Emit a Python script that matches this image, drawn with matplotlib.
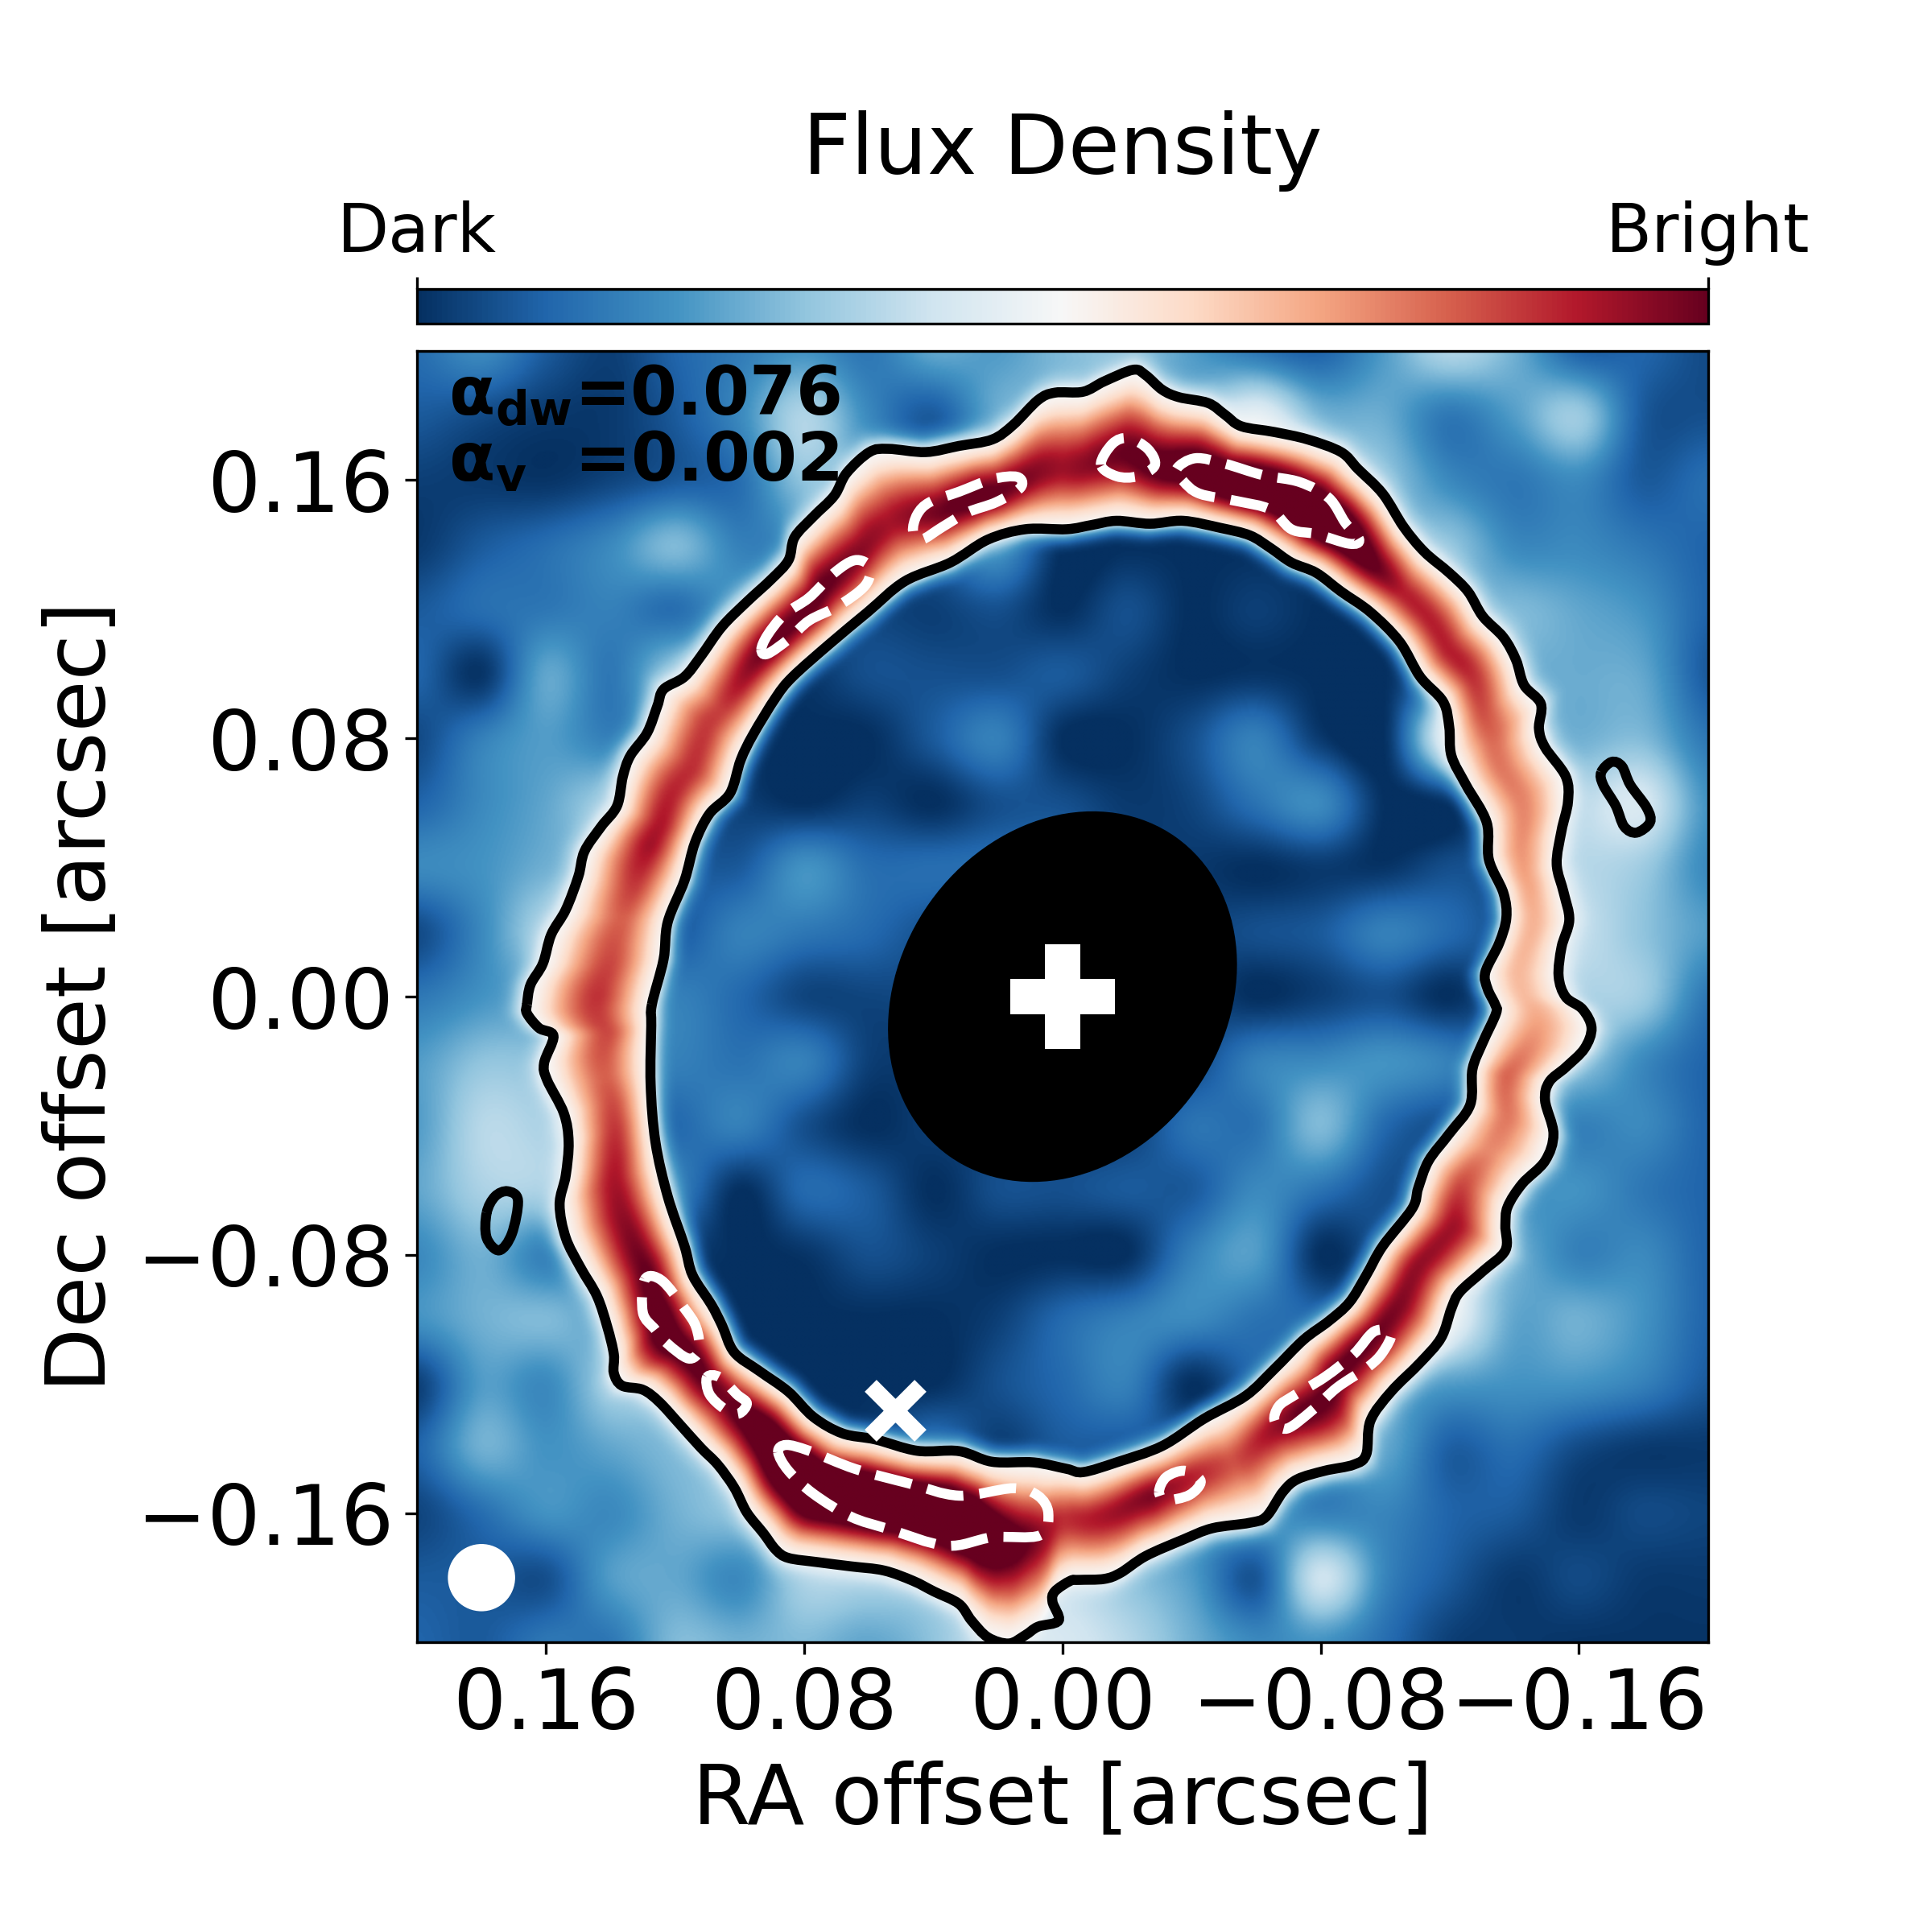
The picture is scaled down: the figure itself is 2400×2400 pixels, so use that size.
"""Flux density map of the ring with contours, beam and planet markers."""

from __future__ import annotations

import matplotlib

matplotlib.use("Agg")
import matplotlib.pyplot as plt
import numpy as np
from matplotlib.patches import Ellipse, PathPatch
from matplotlib.path import Path

# contours in milli-arcsec (RA grows to the left)
OUTER_RA = [165.9, 164.8, 161.0, 158.4, 153.9, 150.0, 148.1, 142.9, 138.0, 136.2, 133.9, 128.7, 125.5, 123.6, 117.1, 112.0, 105.5, 97.8, 90.1, 84.9, 83.0, 77.2, 70.7, 66.9, 59.8, 54.0, 42.4, 32.1, 21.8, 15.3, 7.6, 2.4,
            -6.4, -12.9, -21.9, -25.8, -30.9, -36.1, -45.1, -50.3, -55.4, -65.7, -76.0, -86.3, -91.5, -99.2, -105.7, -112.1, -119.8, -125.6, -130.2, -136.6, -140.5, -143.0, -148.2, -147.6, -149.5, -155.9, -156.6, -154.6, -153.1, -155.3, -157.0, -154.6, -153.7, -155.9,
            -161.1, -163.9, -161.7, -155.9, -150.8, -149.5, -152.1, -149.5, -142.4, -137.9, -137.2, -137.2, -130.2, -123.1, -120.5, -117.3, -110.8, -101.8, -95.4, -94.1, -90.2, -81.2, -72.8, -68.3, -63.1, -58.0, -46.4, -37.4, -25.8, -18.0, -12.9, -5.2,
            -2.4, 2.4, 3.1, 1.2, 7.6, 11.5, 16.6, 23.1, 28.2, 32.1, 39.8, 46.3, 55.3, 65.6, 75.9, 84.9, 88.8, 92.7, 97.8, 101.7, 106.8, 112.0, 118.4, 124.9, 130.0, 136.5, 139.0, 139.0, 141.0, 144.2, 149.4, 153.9, 155.8, 153.9, 153.0, 154.5, 159.7, 160.6, 157.7, 162.2, 165.9]
OUTER_DEC = [-2.4, 3.7, 10.2, 19.2, 26.9, 37.2, 45.0, 52.7, 59.1, 68.2, 74.6, 81.7, 90.1, 95.2, 99.1, 105.5, 114.6, 122.3, 129.4, 135.2, 142.3, 148.7, 155.2, 162.2, 168.7, 169.7, 168.7, 170.6, 172.6, 177.1, 184.8, 187.1,
             187.4, 190.6, 194.2, 192.5, 188.0, 185.7, 183.9, 180.3, 176.7, 174.9, 172.6, 168.7, 163.5, 155.8, 145.5, 137.8, 131.3, 125.5, 117.8, 111.3, 104.3, 96.5, 90.7, 83.0, 77.2, 68.2, 60.4, 51.4, 41.1, 32.1, 23.7, 15.3, 6.3, -0.1,
             -3.9, -9.7, -16.1, -21.9, -26.4, -32.2, -42.5, -50.9, -58.0, -65.1, -70.9, -78.6, -85.1, -91.5, -96.6, -105.7, -113.4, -122.4, -131.4, -141.8, -145.0, -146.9, -149.5, -153.4, -161.1, -163.0, -164.7, -168.2, -173.3, -178.5, -180.4, -180.7,
             -181.0, -184.3, -187.5, -193.3, -195.2, -197.8, -200.4, -198.5, -193.3, -188.1, -184.3, -181.0, -177.8, -176.5, -175.2, -173.9, -171.4, -166.2, -159.8, -152.1, -145.0, -139.8, -132.7, -125.6, -121.8, -120.5, -116.6, -110.8, -102.4, -92.8, -83.8, -74.7, -64.4, -55.4, -45.1, -36.1, -25.8, -20.6, -12.2, -9.7, -5.2]
INNER_RA = [127.2, 123.6, 122.3, 117.1, 113.9, 109.4, 103.0, 99.7, 95.9, 88.8, 83.6, 72.0, 60.4, 48.8, 34.7, 23.1, 11.5, -1.3,
            -9.0, -16.7, -27.1, -37.4, -49.0, -58.0, -64.4, -70.9, -78.6, -86.3, -95.4, -104.4, -110.8, -117.9, -119.8, -120.5, -125.0, -131.4, -132.1, -136.6, -137.5, -135.3, -131.0, -131.7, -134.0,
            -134.3, -130.2, -127.0, -126.3, -119.8, -113.4, -110.2, -108.3, -99.2, -94.1, -88.9, -82.5, -74.7, -65.7, -56.7, -43.8, -30.9, -16.7, -6.4, -1.3,
            8.9, 21.8, 32.1, 45.0, 57.9, 68.2, 77.2, 84.9, 93.9, 101.7, 105.5, 108.8, 114.6, 117.1, 122.3, 126.1, 127.6, 127.4]
INNER_DEC = [-2.4, 11.5, 23.1, 36.0, 47.6, 56.6, 63.0, 73.3, 81.1, 92.7, 99.1, 109.4, 119.1, 128.7, 134.5, 141.6, 144.8, 144.8,
             146.1, 147.4, 146.5, 147.4, 145.2, 142.9, 139.0, 134.5, 131.3, 125.5, 119.1, 110.0, 99.1, 91.4, 83.6, 74.6, 65.6, 54.0, 42.4, 32.1, 24.4, 16.6, 7.6, 2.4, -2.4,
             -5.2, -14.2, -22.5, -33.5, -42.5, -50.9, -59.3, -65.7, -77.3, -86.3, -94.7, -100.5, -106.3, -115.3, -123.7, -130.8, -139.2, -144.3, -147.3, -146.3,
             -144.3, -144.1, -140.8, -140.7, -137.2, -135.3, -130.2, -122.4, -116.0, -110.2, -101.8, -95.4, -86.3, -77.3, -61.9, -45.1, -27.1, -9.0]

# isolated islands of the lower contour
ISLAND_R_RA = [-166.9, -170.1, -173.3, -175.9, -181.0, -182.0, -177.8, -174.0, -171.4, -167.5]
ISLAND_R_DEC = [69.5, 72.7, 71.4, 65.6, 58.5, 54.0, 50.8, 52.7, 59.1, 65.6]
ISLAND_L_RA = [178.4, 175.8, 171.9, 168.7, 170.6, 174.5, 178.4]
ISLAND_L_DEC = [-67.0, -61.9, -60.3, -63.1, -73.5, -78.6, -74.7]

# high level (white dashed) contours
PEAK_RA = [
    [46.3, 45.0, 41.1, 32.1, 21.8, 14.0, 13.0, 20.5, 29.5, 37.2, 43.7],
    [93.3, 91.4, 86.2, 78.5, 70.7, 64.3, 59.8, 61.1, 69.5, 78.5, 84.9, 91.4],
    [-11.9, -15.5, -20.4, -26.4, -28.6, -23.2, -16.8],
    [-35.4, -41.2, -50.3, -61.9, -73.5, -82.5, -87.6, -91.9, -88.9, -78.6, -70.9, -64.4, -54.1, -42.5, -37.4],
    [-29.9, -32.2, -38.0, -42.8, -39.3, -32.2],
    [-65.7, -67.0, -71.5, -81.2, -90.2, -96.6, -101.8, -99.2, -94.7, -85.1, -77.3, -69.6],
    [129.4, 124.2, 117.1, 113.5, 112.6, 115.9, 122.3, 126.2, 130.0],
    [110.1, 109.4, 104.9, 100.4, 97.8, 101.0, 106.2],
    [88.1, 85.6, 78.5, 64.3, 47.6, 32.1, 15.3, 7.6, 4.4, 7.0, 21.8, 36.0, 54.0, 65.6, 77.2, 84.9],
]
PEAK_DEC = [
    [144.2, 149.4, 153.2, 156.4, 160.3, 161.0, 157.7, 153.2, 150.0, 145.5, 141.6],
    [107.5, 112.0, 118.4, 123.6, 131.3, 135.2, 133.2, 127.4, 121.0, 116.5, 110.7, 106.2],
    [164.8, 171.3, 173.0, 169.7, 164.6, 161.2, 161.2],
    [163.5, 166.8, 165.1, 161.6, 159.4, 154.5, 146.8, 141.6, 140.3, 143.3, 144.8, 150.9, 153.5, 155.8, 159.7],
    [-153.4, -148.8, -146.9, -150.1, -154.4, -155.9],
    [-131.4, -126.9, -123.7, -117.9, -110.8, -103.7, -104.4, -110.2, -114.7, -121.1, -128.2, -133.8],
    [-87.6, -87.9, -96.6, -102.4, -109.5, -112.1, -107.6, -103.1, -97.9],
    [-117.9, -123.1, -127.6, -129.2, -126.0, -123.1, -117.9],
    [-141.1, -138.9, -140.7, -146.3, -150.8, -154.6, -152.3, -154.6, -160.0, -166.9, -167.5, -170.1, -164.9, -161.1, -154.0, -146.9],
]

# brightness along the ring ridge, every 10 deg clockwise from the RA+ side
RIDGE_ANGLE = list(range(0, 360, 10))
RIDGE_FLUX = [0.87, 0.80, 0.93, 0.88, 0.85, 1.02, 1.02, 0.92, 1.05, 0.93, 1.05, 1.20, 1.20, 0.90, 0.90, 0.78, 0.74, 0.68,
              0.66, 0.80, 0.74, 0.93, 0.96, 1.02, 1.02, 0.82, 0.98, 0.87, 1.25, 1.28, 1.25, 0.99, 1.08, 0.98, 0.90, 0.80]
RIDGE_FRACTION = 0.45
CONTOUR_FLUX = 0.5

# flux on a 20 mas grid, in percent of full scale, rows Dec +200..-200, columns RA +200..-200
BACKGROUND = [
    [12, 18, 8, 3, 10, 15, 20, 14, 24, 22, 28, 30, 22, 14, 10, 22, 35, 26, 10, 10, 5],
    [8, 5, 2, 2, 8, 18, 35, 18, 8, 25, 45, 45, 45, 45, 27, 25, 14, 22, 32, 8, 6],
    [3, 2, 1, 4, 8, 12, 30, 45, 45, 45, 45, 45, 45, 45, 45, 30, 18, 14, 18, 8, 12],
    [2, 8, 12, 18, 28, 16, 25, 45, 45, 20, 0, 0, 0, 0, 45, 45, 30, 18, 18, 14, 10],
    [8, 12, 14, 16, 12, 24, 45, 45, 3, 6, 0, 6, 0, 3, 0, 45, 45, 28, 24, 20, 10],
    [10, 1, 24, 14, 30, 45, 1, 6, 6, 6, 8, 3, 0, 1, 0, 0, 45, 45, 25, 24, 8],
    [5, 16, 22, 16, 45, 45, 0, 0, 8, 16, 0, 0, 6, 16, 2, 0, 45, 45, 26, 28, 14],
    [10, 18, 24, 32, 45, 3, 0, 3, 0, 6, 6, 2, 4, 13, 18, 0, 1, 45, 36, 42, 20],
    [18, 20, 26, 45, 45, 8, 20, 12, 12, 12, 10, 4, 2, 0, 2, 1, 6, 45, 36, 32, 18],
    [5, 18, 34, 45, 8, 16, 14, 11, 6, 4, 4, 4, 4, 6, 8, 16, 11, 45, 38, 30, 22],
    [14, 20, 40, 45, 16, 11, 4, 4, 5, 5, 5, 5, 5, 0, 3, 6, 0, 45, 34, 32, 14],
    [22, 30, 42, 45, 16, 13, 16, 3, 3, 3, 3, 5, 5, 16, 18, 20, 16, 45, 30, 18, 10],
    [22, 36, 34, 45, 11, 16, 6, 0, 3, 3, 3, 3, 13, 13, 28, 11, 6, 45, 16, 18, 10],
    [24, 34, 34, 45, 16, 0, 11, 8, 0, 6, 6, 8, 8, 18, 13, 6, 45, 45, 20, 14, 10],
    [18, 26, 16, 34, 45, 0, 1, 6, 3, 0, 0, 0, 16, 22, 0, 45, 45, 26, 16, 18, 10],
    [20, 26, 28, 26, 45, 0, 0, 0, 0, 3, 11, 16, 18, 13, 11, 45, 45, 24, 26, 20, 10],
    [3, 22, 18, 32, 45, 45, 0, 0, 0, 6, 11, 16, 0, 11, 45, 45, 22, 20, 20, 16, 8],
    [10, 26, 20, 24, 28, 45, 45, 45, 13, 3, 8, 8, 30, 45, 45, 24, 9, 12, 5, 2, 2],
    [4, 12, 20, 18, 26, 30, 45, 45, 45, 45, 45, 45, 45, 45, 16, 17, 10, 8, 2, 5, 4],
    [8, 8, 6, 22, 24, 18, 34, 34, 40, 45, 45, 30, 22, 7, 40, 17, 8, 2, 5, 2, 2],
    [10, 8, 14, 14, 28, 26, 28, 24, 30, 42, 42, 36, 26, 18, 20, 12, 3, 2, 1, 1, 1],
]

# cross-ring profile from the contour (0) to the ridge (1), and the fall off beyond the contour
PROFILE_POS = [0.0, 0.15, 0.3, 0.5, 0.7, 0.85, 1.0]
PROFILE_LEVEL = [0.0, 0.07, 0.25, 0.55, 0.80, 0.95, 1.0]
FADE_OUT_MAS = [0.0, 2.0, 4.0, 6.0, 9.0]
FADE_IN_MAS = [0.0, 1.5, 3.0, 5.0, 7.0]
FADE_LEVEL = [0.0, 0.35, 0.7, 0.9, 1.0]

TICKS = [0.16, 0.08, 0.0, -0.08, -0.16]
MASK_CENTER = (0.0, 0.0)
BEAM_POS = (180.0, -180.0)
PLANET_POS = (51.9, -128.2)


def _ring_radius(theta, ra, dec):
    ra = np.asarray(ra)
    dec = np.asarray(dec)
    # the contour overhangs in places: keep only the points that move on in angle
    angles = np.unwrap(np.arctan2(dec, ra))
    keep = angles == np.maximum.accumulate(angles)
    return np.interp(theta, np.degrees(angles[keep]) % 360, np.hypot(ra, dec)[keep], period=360)


def _fill_missing(grid, valid):
    grid = grid.copy()
    valid = valid.copy()
    n = grid.shape[0]
    while not valid.all():
        next_grid, next_valid = grid.copy(), valid.copy()
        for i, j in zip(*np.nonzero(~valid)):
            i0, i1, j0, j1 = max(i - 1, 0), min(i + 2, n), max(j - 1, 0), min(j + 2, n)
            near = valid[i0:i1, j0:j1]
            if near.any():
                next_grid[i, j] = grid[i0:i1, j0:j1][near].mean()
                next_valid[i, j] = True
        grid, valid = next_grid, next_valid
    return grid


def _cubic_rows(grid, pos):
    n = grid.shape[0]
    i = np.clip(np.floor(pos).astype(int), 0, n - 2)
    t = (pos - i)[:, None]
    w0 = -0.5 * t + t**2 - 0.5 * t**3
    w1 = 1 - 2.5 * t**2 + 1.5 * t**3
    w2 = 0.5 * t + 2 * t**2 - 1.5 * t**3
    w3 = -0.5 * t**2 + 0.5 * t**3
    return (
        w0 * grid[np.clip(i - 1, 0, n - 1)]
        + w1 * grid[i]
        + w2 * grid[i + 1]
        + w3 * grid[np.clip(i + 2, 0, n - 1)]
    )


def _upsample(grid, ra, dec):
    rows = _cubic_rows(grid, (200 - dec) / 20)
    return _cubic_rows(rows.T, (200 - ra) / 20).T


def _soften(field, size=9):
    kernel = np.ones(size) / size
    pad = size // 2
    padded = np.pad(field, pad, mode="edge")
    out = np.apply_along_axis(lambda row: np.convolve(row, kernel, mode="same"), 0, padded)
    out = np.apply_along_axis(lambda row: np.convolve(row, kernel, mode="same"), 1, out)
    return out[pad:-pad, pad:-pad]


def _build_map():
    bg = np.array(BACKGROUND, dtype=float) / 100
    axis = 200 - 20 * np.arange(bg.shape[0], dtype=float)
    cell_ra, cell_dec = np.meshgrid(axis, axis)
    cell_r = np.hypot(cell_ra, cell_dec)
    cell_theta = np.degrees(np.arctan2(cell_dec, cell_ra)) % 360
    bg_in = _fill_missing(bg, cell_r < _ring_radius(cell_theta, INNER_RA, INNER_DEC))
    bg_out = _fill_missing(bg, cell_r > _ring_radius(cell_theta, OUTER_RA, OUTER_DEC))

    ra = np.linspace(200, -200, 1000)
    dec = np.linspace(-200, 200, 1000)
    ra2, dec2 = np.meshgrid(ra, dec)
    r = np.hypot(ra2, dec2)
    theta = np.degrees(np.arctan2(dec2, ra2)) % 360
    r_in = _ring_radius(theta, INNER_RA, INNER_DEC)
    r_out = _ring_radius(theta, OUTER_RA, OUTER_DEC)
    r_mid = r_in + RIDGE_FRACTION * (r_out - r_in)
    peak = np.interp(theta, RIDGE_ANGLE, RIDGE_FLUX, period=360)

    side = np.where(r < r_mid, (r - r_in) / (r_mid - r_in), (r_out - r) / (r_out - r_mid))
    level = np.interp(side, PROFILE_POS, PROFILE_LEVEL)
    flux = CONTOUR_FLUX + (peak - CONTOUR_FLUX) * level

    low_in = np.clip(_upsample(bg_in, ra, dec), 0, 0.5)
    low_out = np.clip(_upsample(bg_out, ra, dec), 0, 0.5)
    fade_in = np.interp(r_in - r, FADE_IN_MAS, FADE_LEVEL)
    fade_out = np.interp(r - r_out, FADE_OUT_MAS, FADE_LEVEL)
    flux = np.where(r < r_in, CONTOUR_FLUX + (low_in - CONTOUR_FLUX) * fade_in, flux)
    flux = np.where(r > r_out, CONTOUR_FLUX + (low_out - CONTOUR_FLUX) * fade_out, flux)
    return _soften(flux)


def _smooth_path(ra, dec):
    # closed Catmull-Rom curve through the read points, in arcsec
    pts = np.column_stack([ra, dec]) / 1000.0
    before = np.roll(pts, 1, axis=0)
    after = np.roll(pts, -1, axis=0)
    after2 = np.roll(pts, -2, axis=0)
    verts = [pts[0]]
    codes = [Path.MOVETO]
    for p0, p1, p2, p3 in zip(before, pts, after, after2):
        verts += [p1 + (p2 - p0) / 6, p2 - (p3 - p1) / 6, p2]
        codes += [Path.CURVE4, Path.CURVE4, Path.CURVE4]
    return Path(np.array(verts), codes)


def _add_contour(ax, ra, dec, **style):
    patch = PathPatch(_smooth_path(ra, dec), facecolor="none", **style)
    ax.add_patch(patch)


def main() -> None:
    fig = plt.figure(figsize=(8, 8), dpi=300)
    ax = fig.add_axes([0.2158, 0.15, 0.6683, 0.6683])
    cax = fig.add_axes([0.2158, 0.8325, 0.6683, 0.0178])

    im = ax.imshow(
        _build_map(),
        origin="lower",
        extent=(0.2, -0.2, -0.2, 0.2),
        cmap="RdBu_r",
        vmin=0,
        vmax=1,
        interpolation="bilinear",
        aspect="equal",
    )

    line = {"edgecolor": "black", "linewidth": 3.0}
    _add_contour(ax, OUTER_RA, OUTER_DEC, **line)
    _add_contour(ax, INNER_RA, INNER_DEC, **line)
    _add_contour(ax, ISLAND_R_RA, ISLAND_R_DEC, **line)
    _add_contour(ax, ISLAND_L_RA, ISLAND_L_DEC, **line)
    for ra, dec in zip(PEAK_RA, PEAK_DEC):
        _add_contour(ax, ra, dec, edgecolor="white", linewidth=3.0, linestyle="--")

    ax.add_patch(Ellipse(MASK_CENTER, 2 * 0.0601, 2 * 0.0499, angle=125.4, color="black", zorder=4))
    ax.plot(*MASK_CENTER, marker="P", ms=31, color="white", mew=0, zorder=5)
    ax.plot(PLANET_POS[0] / 1000, PLANET_POS[1] / 1000, marker="x", ms=15, mew=5, color="white", zorder=5)
    ax.add_patch(Ellipse((BEAM_POS[0] / 1000, BEAM_POS[1] / 1000), 0.0198, 0.0198, color="white", zorder=5))

    ax.set_xlim(0.2, -0.2)
    ax.set_ylim(-0.2, 0.2)
    ax.set_xticks(TICKS)
    ax.set_yticks(TICKS)
    ax.tick_params(labelsize=25)
    ax.set_xlabel("RA offset [arcsec]", fontsize=25)
    ax.set_ylabel("Dec offset [arcsec]", fontsize=25)

    ax.text(0.0245, 0.965, r"$\mathbf{\alpha_{dw}}$=0.076", transform=ax.transAxes, fontsize=20, fontweight="bold", va="center")
    ax.text(0.0245, 0.914, r"$\mathbf{\alpha_{v}}$  =0.002", transform=ax.transAxes, fontsize=20, fontweight="bold", va="center")

    cb = fig.colorbar(im, cax=cax, orientation="horizontal", ticks=[0, 1])
    cax.xaxis.set_ticks_position("top")
    cb.set_ticklabels(["Dark", "Bright"])
    cax.tick_params(labelsize=20)
    fig.text(0.55, 0.91, "Flux Density", ha="center", va="baseline", fontsize=25)

    fig.savefig("out.png", dpi=300)
    plt.close(fig)


if __name__ == "__main__":
    main()
